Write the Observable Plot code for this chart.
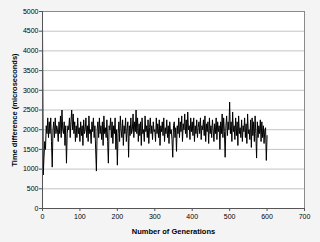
<!DOCTYPE html>
<html>
<head>
<meta charset="utf-8">
<script src="https://cdn.jsdelivr.net/npm/d3@7"></script>
<script src="https://cdn.jsdelivr.net/npm/@observablehq/plot@0.6"></script>
<style>
  html, body { margin: 0; padding: 0; background: #f4f4f4; }
  #chart svg { display: block; background: transparent; font-family: "Liberation Sans", Arial, sans-serif; }
  #chart g[aria-label="x-axis label"] text, #chart g[aria-label="y-axis label"] text { font-weight: bold; font-size: 7.5px; }
</style>
</head>
<body>
<div id="chart"></div>
<script>
const genStep = 2;
const timeDiff = [
  4700, 850, 1300, 1700, 1500, 2100, 1900, 2300, 1800, 2200,
  1900, 2300, 1700, 1050, 2000, 2200, 1800, 2300, 1900, 2100,
  2000, 1700, 2200, 1900, 2350, 1800, 2500, 2000, 1900, 2200,
  1600, 2100, 1150, 1900, 2100, 2000, 2300, 1800, 2200, 2500,
  2000, 2400, 1900, 2200, 1700, 2100, 1800, 2300, 1900, 2050,
  1700, 2200, 1850, 2100, 1600, 2250, 1900, 2000, 2300, 1800,
  2100, 1700, 2350, 1900, 2000, 1650, 2200, 1950, 2300, 1800,
  2100, 1500, 950, 2000, 2200, 1800, 2300, 1900, 2100, 1750,
  2200, 1600, 2350, 1900, 2050, 1800, 2250, 1700, 1150, 2100,
  2000, 2300, 1800, 2200, 1650, 2100, 1900, 2300, 1500, 2000,
  1100, 1900, 2200, 1700, 2350, 2000, 1800, 2250, 1600, 2100,
  1900, 2300, 1700, 2000, 2200, 1300, 2100, 1850, 2300, 1900,
  2000, 2400, 1800, 2200, 1950, 2500, 1900, 2300, 1700, 2150,
  1850, 2200, 1600, 2300, 1900, 2000, 1700, 2350, 1950, 2100,
  1800, 2250, 1650, 2050, 2300, 1900, 2100, 1750, 2200, 1950,
  2000, 1700, 2300, 1900, 2150, 1800, 2250, 1600, 2100, 1950,
  2200, 1850, 2300, 1700, 2050, 1900, 2250, 1800, 2100, 1650,
  2200, 1900, 2000, 1750, 1300, 2100, 2200, 1800, 2050, 1450,
  2100, 1900, 2300, 1800, 2200, 1950, 2350, 1700, 2150, 2000,
  2400, 1900, 2250, 1800, 2450, 2000, 2100, 1750, 2300, 1950,
  2200, 1850, 2300, 1700, 2100, 1900, 2250, 1800, 2050, 2200,
  1900, 2300, 1750, 2100, 2000, 2250, 1850, 2350, 1700, 2150,
  1950, 2200, 1650, 2300, 1900, 2100, 1800, 2250, 2000, 1700,
  2150, 1900, 2300, 1750, 2200, 1950, 2100, 1500, 2200, 1900,
  2400, 1800, 2300, 1950, 1300, 2100, 2350, 1850, 2200, 2000,
  2700, 1900, 2200, 1700, 2450, 1950, 2100, 1750, 2300, 1850,
  2200, 1600, 2350, 1900, 2050, 1800, 2250, 1700, 2100, 1950,
  2300, 1800, 2150, 1650, 2400, 1900, 2000, 1750, 2250, 1550,
  2300, 1850, 2200, 1700, 2350, 1900, 1280, 2200, 1800, 2100,
  1900, 2250, 1700, 2200, 1800, 2100, 1650, 2000, 2050, 1220,
  1850
];
const xTicks = [0, 100, 200, 300, 400, 500, 600, 700];
const yTicks = [0, 500, 1000, 1500, 2000, 2500, 3000, 3500, 4000, 4500, 5000];
const xTitle = "Number of Generations";
const yTitle = "Time difference (microseconds)";

const data = timeDiff.map((v, i) => ({gen: i * genStep, t: v}));

const chart = Plot.plot({
  width: 320,
  height: 242,
  marginLeft: 42,
  marginRight: 16,
  marginTop: 11,
  marginBottom: 34,
  style: {fontSize: "7px", fontFamily: "Liberation Sans, Arial, sans-serif", background: "transparent"},
  x: {domain: [0, 700]},
  y: {domain: [0, 5000]},
  marks: [
    Plot.frame({fill: "white", stroke: null}),
    Plot.gridY(yTicks, {stroke: "#c4c4c4", strokeOpacity: 1, strokeWidth: 1}),
    Plot.line(data, {x: "gen", y: "t", stroke: "black", strokeWidth: 1}),
    Plot.frame({stroke: "#8a8a8a", strokeWidth: 1}),
    Plot.ruleX([0], {stroke: "#555", strokeWidth: 1}),
    Plot.ruleY([0], {stroke: "#555", strokeWidth: 1}),
    Plot.axisY({ticks: yTicks, tickFormat: d => String(d), tickSize: 3, tickPadding: 1, fontSize: 7, label: yTitle, labelAnchor: "center", labelArrow: "none", labelOffset: 31, stroke: "#555"}),
    Plot.axisX({ticks: xTicks, tickFormat: d => String(d), tickSize: 3, tickPadding: 3, fontSize: 7, label: xTitle, labelAnchor: "center", labelArrow: "none", labelOffset: 25, stroke: "#555"})
  ]
});
document.getElementById("chart").appendChild(chart);
</script>
</body>
</html>
